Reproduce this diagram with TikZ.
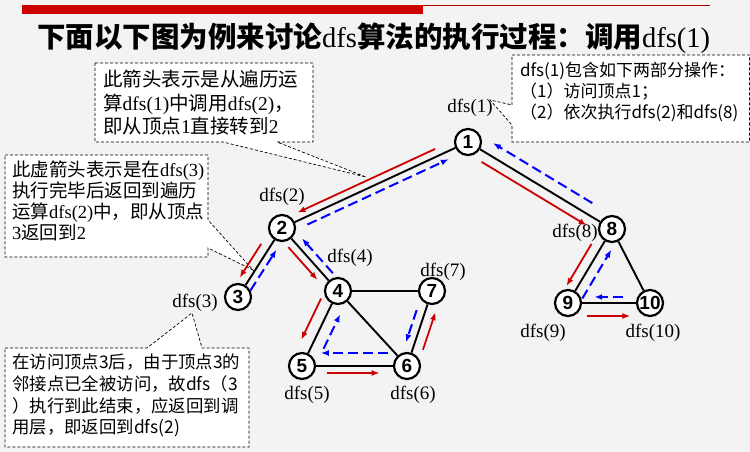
\documentclass[tikz,border=0pt]{standalone}
\usepackage{fontspec}
\setmainfont{Liberation Serif}
\newfontfamily\cjk{Noto Sans CJK SC}
\newfontfamily\arial{Liberation Sans}
\usetikzlibrary{calc,arrows.meta}
\definecolor{slidebg}{RGB}{243,243,243}
\definecolor{callred}{RGB}{204,0,0}
\tikzset{
  vertex/.style={circle,draw,fill=white,line width=2.2pt,minimum size=26pt,inner sep=0pt,
    font=\arial\bfseries\fontsize{19}{19}\selectfont},
  dfslabel/.style={inner sep=0pt,font=\fontsize{19}{19}\selectfont},
  edge/.style={line width=1.9pt},
  note/.style={draw,fill=white,line width=0.7pt,dash pattern=on 3pt off 2pt},
  notetext/.style={anchor=north west,align=left,inner sep=0pt},
  go/.style={callred,line width=1.8pt,-{Latex[length=8pt,width=6pt]}},
  back/.style={blue,line width=2pt,dash pattern=on 10pt off 5pt,-{Latex[length=8pt,width=6pt]}}
}
%% one step of the walk, drawn beside the edge #2--#3
\newcommand{\walk}[6]{\draw[#1] ($(#2)!#4!(#3)!#6!-90:(#3)$) -- ($(#2)!#5!(#3)!#6!-90:(#3)$);}

\begin{document}
\begin{tikzpicture}[x=1pt,y=-1pt]
\useasboundingbox (0,0) rectangle (750,452);
\fill[slidebg] (0,0) rectangle (750,452);
%% title bar
\fill[callred] (22,5) rectangle (423,14);
\draw[callred!85!black,line width=1pt] (423,5.5) -- (710,5.5);
\node[anchor=west,inner sep=0pt,font=\fontsize{28.5}{30}\selectfont] (title) at (37,38)
  {{\cjk\bfseries 下面以下图为例来讨论}dfs{\cjk\bfseries 算法的执行过程：调用}dfs(1)};
%% the four notes, each with its pointer
\draw[note] (95,63) -- (313,63) -- (313,142) -- (277,142) -- (366,177) -- (223,142) -- (95,142) -- cycle;
\draw[note] (512,55) -- (749.5,55) -- (749.5,142) -- (512,142) -- (512,125) -- (490,100) -- (512,105) -- cycle;
\draw[note] (5,155) -- (208,155) -- (208,220) -- (253,270) -- (208,248) -- (208,257) -- (5,257) -- cycle;
\draw[note] (5,348) -- (147,348) -- (192,313) -- (202,348) -- (249,348) -- (249,447) -- (5,447) -- cycle;
\node[notetext,font=\cjk\fontsize{19.5}{23.5}\selectfont] (noteA) at (103,70)
  {此箭头表示是从遍历运\\算\textrm{dfs(1)}中调用\textrm{dfs(2)}，\\即从顶点\textrm{1}直接转到\textrm{2}};
\node[notetext,font=\cjk\fontsize{17}{21}\selectfont] (noteB) at (520,62)
  {dfs(1)包含如下两部分操作：\\（1）访问顶点1；\\（2）依次执行dfs(2)和dfs(8)};
\node[notetext,font=\cjk\fontsize{18.5}{20.7}\selectfont] (noteC) at (12,161)
  {此虚箭头表示是在\textrm{dfs(3)}\\执行完毕后返回到遍历\\运算\textrm{dfs(2)}中，即从顶点\\\textrm{3}返回到\textrm{2}};
\node[notetext,font=\cjk\fontsize{17.4}{21.7}\selectfont] (noteD) at (12,354)
  {在访问顶点3后，由于顶点3的\\邻接点已全被访问，故dfs（3\\）执行到此结束，应返回到调\\用层，即返回到dfs(2)};
%% vertices
\node[vertex] (v1) at (468,142) {1};
\node[vertex] (v2) at (282,228) {2};
\node[vertex] (v3) at (238,297) {3};
\node[vertex] (v4) at (338,291) {4};
\node[vertex] (v5) at (302,366) {5};
\node[vertex] (v6) at (407,366) {6};
\node[vertex] (v7) at (432,291) {7};
\node[vertex] (v8) at (612,229) {8};
\node[vertex] (v9) at (568,303) {9};
\node[vertex] (v10) at (650,303) {10};
\draw[edge] (v1) -- (v2) (v1) -- (v8) (v2) -- (v3) (v2) -- (v4)
  (v4) -- (v5) (v4) -- (v6) (v4) -- (v7) (v5) -- (v6) (v6) -- (v7)
  (v8) -- (v9) (v8) -- (v10) (v9) -- (v10);
%% labels
\node[dfslabel] (l1) at (470,108) {dfs(1)};
\node[dfslabel] (l2) at (282,197) {dfs(2)};
\node[dfslabel] (l3) at (195,303) {dfs(3)};
\node[dfslabel] (l4) at (350,258) {dfs(4)};
\node[dfslabel] (l5) at (307,395) {dfs(5)};
\node[dfslabel] (l6) at (413,395) {dfs(6)};
\node[dfslabel] (l7) at (443,272) {dfs(7)};
\node[dfslabel] (l8) at (575,233) {dfs(8)};
\node[dfslabel] (l9) at (543,333) {dfs(9)};
\node[dfslabel] (l10) at (653,333) {dfs(10)};
%% calls (red) and returns (blue)
\walk{go}{v1}{v2}{0.16}{0.9}{7.5pt}
\walk{back}{v2}{v1}{0.12}{0.88}{7.5pt}
\walk{go}{v2}{v3}{0.3}{0.79}{9pt}
\walk{back}{v3}{v2}{0.15}{0.74}{7pt}
\walk{go}{v2}{v4}{0.22}{0.74}{8pt}
\walk{back}{v4}{v2}{0.2}{0.75}{8pt}
\walk{go}{v4}{v5}{0.17}{0.72}{12pt}
\walk{back}{v5}{v4}{0.3}{0.76}{12pt}
\walk{go}{v5}{v6}{0.24}{0.74}{7pt}
\walk{back}{v6}{v5}{0.18}{0.82}{13pt}
\walk{go}{v6}{v7}{0.26}{0.76}{10pt}
\walk{back}{v7}{v6}{0.29}{0.72}{8.5pt}
\walk{go}{v1}{v8}{0.13}{0.86}{10pt}
\walk{back}{v8}{v1}{0.18}{0.87}{12pt}
\walk{go}{v8}{v9}{0.27}{0.84}{10pt}
\walk{back}{v9}{v8}{0.13}{0.79}{10pt}
\walk{go}{v9}{v10}{0.23}{0.76}{13pt}
\walk{back}{v10}{v9}{0.33}{0.68}{6pt}
\end{tikzpicture}
\end{document}
